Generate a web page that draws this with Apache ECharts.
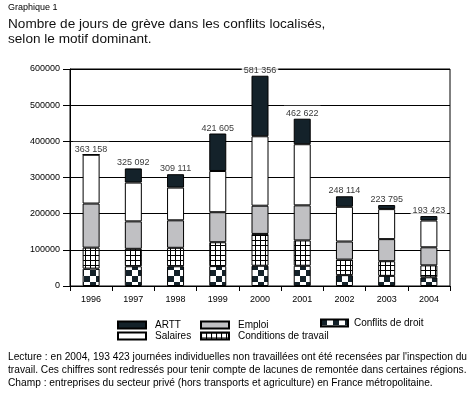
<!DOCTYPE html>
<html><head><meta charset="utf-8">
<script src="https://cdn.jsdelivr.net/npm/echarts@6/dist/echarts.min.js"></script>
<style>html,body{margin:0;padding:0;background:#fff}#c{width:473px;height:395px}</style>
</head><body><div id="c"></div>
<script>
const years = ['1996','1997','1998','1999','2000','2001','2002','2003','2004'];
const droit = [48000, 54600, 54600, 55000, 56000, 56000, 30000, 28000, 24000];
const conditions = [58000, 48200, 51000, 66000, 88000, 70000, 43000, 40600, 33000];
const emploi = [122000, 75900, 76000, 83000, 78000, 97000, 50000, 61000, 50000];
const salaires = [135158, 107300, 90500, 114000, 192000, 169000, 96000, 83000, 74000];
const artt = [0, 39100, 37000, 103600, 167400, 70600, 29100, 11200, 12400];
const totals = [363158, 325092, 309111, 421605, 581356, 462622, 248114, 223795, 193423];
const yTicks = [0, 100000, 200000, 300000, 400000, 500000, 600000];

const DARK = '#14222a';
const FONT = 'Liberation Sans';

function checker() {
  const c = document.createElement('canvas'); c.width = 12; c.height = 12;
  const g = c.getContext('2d');
  g.fillStyle = '#fff'; g.fillRect(0,0,12,12);
  g.fillStyle = DARK; g.fillRect(0,0,6,6); g.fillRect(6,6,6,6);
  return c;
}
function gridPat() {
  const c = document.createElement('canvas'); c.width = 5; c.height = 5;
  const g = c.getContext('2d');
  g.fillStyle = '#fff'; g.fillRect(0,0,5,5);
  g.fillStyle = '#000'; g.fillRect(0,0,5,1); g.fillRect(0,0,1,5);
  return c;
}
const fmt = v => String(v).replace(/\B(?=(\d{3})+(?!\d))/g, ' ');

const chart = echarts.init(document.getElementById('c'), null, {renderer: 'canvas'});
const border = {borderColor: '#000', borderWidth: 1};
function barSeries(name, data, color) {
  return {name, type: 'bar', stack: 't', data, barWidth: 17,
    itemStyle: Object.assign({color}, border)};
}
const legendText = pad => ({fontSize: 10, color: '#000', fontFamily: FONT, padding: [0,0,0,pad]});
chart.setOption({
  animation: false,
  textStyle: {fontFamily: FONT},
  grid: {left: 70, right: 23, top: 69, bottom: 109, show: true, borderColor: '#000', borderWidth: 1, backgroundColor: 'transparent'},
  xAxis: {type: 'category', data: years,
    axisLine: {lineStyle: {color: '#000'}},
    axisTick: {show: true, length: 5, lineStyle: {color: '#000'}},
    axisLabel: {color: '#000', fontSize: 9, margin: 9, fontFamily: FONT}},
  yAxis: {type: 'value', min: yTicks[0], max: yTicks[yTicks.length-1], interval: 100000,
    axisLine: {show: true, lineStyle: {color: '#000'}},
    axisTick: {show: true, length: 7, lineStyle: {color: '#000'}},
    splitLine: {lineStyle: {color: '#000', width: 1}},
    axisLabel: {color: '#000', fontSize: 9, margin: 10, fontFamily: FONT, formatter: v => String(v)}},
  legend: [
    {data: ['ARTT', 'Salaires'], icon: 'rect', orient: 'vertical', left: 117, top: 320, padding: 0, itemWidth: 28, itemHeight: 7, itemGap: 1,
      textStyle: legendText(4), selectedMode: false},
    {data: ['Emploi', 'Conditions de travail'], icon: 'rect', orient: 'vertical', left: 200, top: 320, padding: 0, itemWidth: 28, itemHeight: 7, itemGap: 1,
      textStyle: legendText(4), selectedMode: false},
    {data: ['Conflits de droit'], icon: 'rect', orient: 'vertical', left: 320, top: 318, padding: 0, itemWidth: 27, itemHeight: 7, itemGap: 1,
      textStyle: legendText(1), selectedMode: false}
  ],
  graphic: [
    {type: 'text', left: 8, top: 3, style: {text: 'Graphique 1', font: '9px "Liberation Sans"', fill: '#000'}},
    {type: 'text', left: 8, top: 17, style: {text: 'Nombre de jours de grève dans les conflits localisés,\nselon le motif dominant.', font: '13.6px "Liberation Sans"', lineHeight: 15, fill: '#111'}},
    {type: 'text', left: 8, top: 351, style: {text: "Lecture : en 2004, 193 423 journées individuelles non travaillées ont été recensées par l'inspection du\ntravail. Ces chiffres sont redressés pour tenir compte de lacunes de remontée dans certaines régions.\nChamp : entreprises du secteur privé (hors transports et agriculture) en France métropolitaine.", font: '10.2px "Liberation Sans"', lineHeight: 13, fill: '#000'}}
  ],
  series: [
    barSeries('Conflits de droit', droit, {image: checker(), repeat: 'repeat'}),
    barSeries('Conditions de travail', conditions, {image: gridPat(), repeat: 'repeat'}),
    barSeries('Emploi', emploi, '#c0c0c3'),
    barSeries('Salaires', salaires, '#ffffff'),
    barSeries('ARTT', artt, DARK),
    {name: 'total', type: 'scatter', data: totals, symbolSize: 0, silent: true, z: 10,
      label: {show: true, position: 'top', distance: 1, formatter: p => fmt(totals[p.dataIndex]),
        fontSize: 9, color: '#000', fontFamily: FONT, backgroundColor: '#fff', padding: [3,2,0,2]}}
  ]
});
</script></body></html>
